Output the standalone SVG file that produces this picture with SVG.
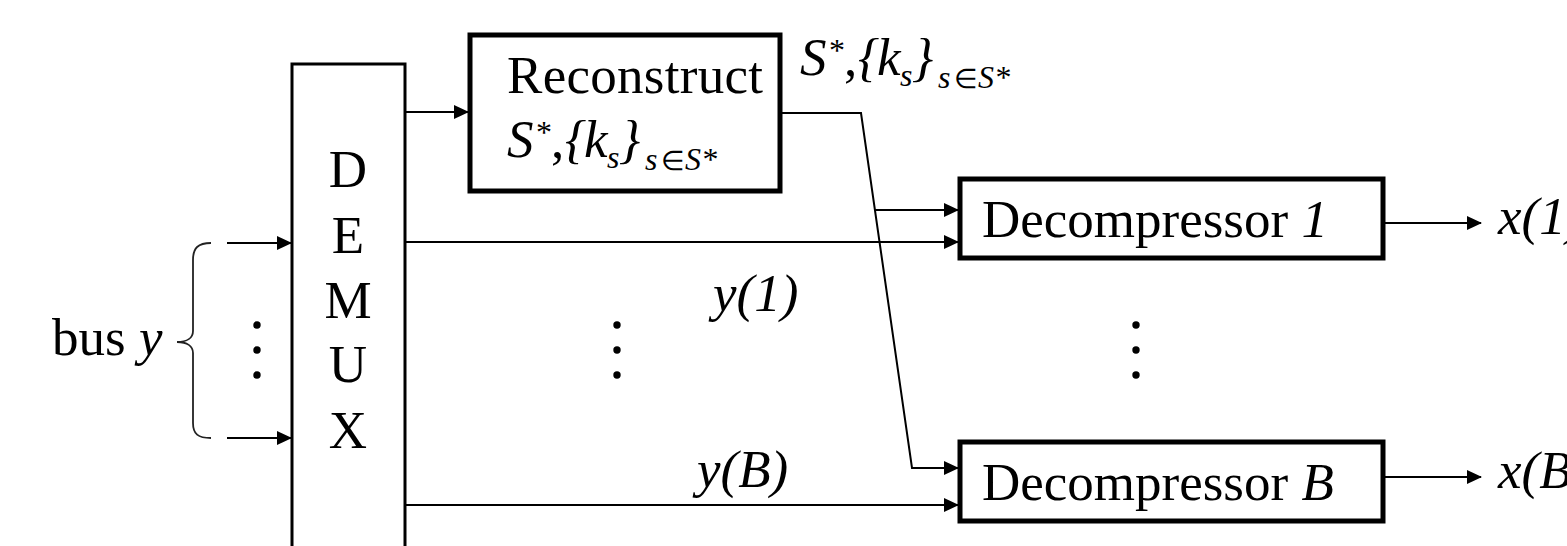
<svg xmlns="http://www.w3.org/2000/svg" width="1567" height="546" viewBox="0 0 1567 546" font-family="Liberation Serif, Times New Roman, serif">
<style>
text{fill:#000}
.t{font-size:53px}
.i{font-style:italic}
.sup{font-size:32px}
.sub{font-size:32px;font-style:italic}
.el{font-size:27px}
.box{fill:#fff;stroke:#000;stroke-width:5}
.ln{fill:none;stroke:#000;stroke-width:2}
.dot{fill:#000}
</style>
<defs>
<marker id="ah" markerWidth="15" markerHeight="14" refX="14" refY="7" orient="auto" markerUnits="userSpaceOnUse">
<path d="M0,0 L15,7 L0,14 Z" fill="#000"/>
</marker>
</defs>
<g id="demux">
<rect x="292" y="64" width="113" height="500" fill="#fff" stroke="#000" stroke-width="3"/>
<text class="t" x="348" y="187" text-anchor="middle">D</text>
<text class="t" x="348" y="253" text-anchor="middle">E</text>
<text class="t" x="348" y="318" text-anchor="middle">M</text>
<text class="t" x="348" y="382" text-anchor="middle">U</text>
<text class="t" x="348" y="448" text-anchor="middle">X</text>
</g>
<g id="bus">
<text class="t" x="52" y="355">bus <tspan class="i">y</tspan></text>
<path d="M211,243 C198,243 193,248 193,260 L193,331 C193,338 187,342 177,342 C187,342 193,346 193,353 L193,423 C193,434 198,438 211,438" fill="none" stroke="#222" stroke-width="1.8"/>
<circle class="dot" cx="257" cy="325" r="3.7"/>
<circle class="dot" cx="257" cy="350" r="3.7"/>
<circle class="dot" cx="257" cy="375" r="3.7"/>
</g>
<g id="reconstruct">
<rect class="box" x="470" y="35" width="310" height="156"/>
<text class="t" x="507" y="93" textLength="256">Reconstruct</text>
<text class="t"><tspan class="i" x="507" y="157">S</tspan><tspan class="sup" x="536" y="143">*</tspan><tspan x="551" y="157">,</tspan><tspan class="i" x="565" y="157">{</tspan><tspan class="i" x="584" y="157">k</tspan><tspan class="sub" x="607" y="168">s</tspan><tspan class="i" x="619" y="157">}</tspan><tspan class="sub" x="645" y="170">s</tspan><tspan class="el" x="661" y="170">∈</tspan><tspan class="sub" x="685" y="170">S*</tspan></text>
</g>
<g id="dec1">
<rect class="box" x="960" y="179" width="423" height="79"/>
<text class="t" x="982" y="237">Decompressor <tspan class="i">1</tspan></text>
</g>
<g id="decB">
<rect class="box" x="960" y="442" width="423" height="79"/>
<text class="t" x="982" y="500">Decompressor <tspan class="i">B</tspan></text>
</g>
<g id="labels">
<text class="t" transform="translate(293,-82)"><tspan class="i" x="507" y="157">S</tspan><tspan class="sup" x="536" y="143">*</tspan><tspan x="551" y="157">,</tspan><tspan class="i" x="565" y="157">{</tspan><tspan class="i" x="584" y="157">k</tspan><tspan class="sub" x="607" y="168">s</tspan><tspan class="i" x="619" y="157">}</tspan><tspan class="sub" x="645" y="170">s</tspan><tspan class="el" x="661" y="170">∈</tspan><tspan class="sub" x="685" y="170">S*</tspan></text>
<text class="t i" x="713" y="311">y(1)</text>
<text class="t i" x="697" y="487">y(B)</text>
<text class="t i" x="1498" y="234">x(1)</text>
<text class="t i" x="1498" y="488">x(B)</text>
<circle class="dot" cx="617" cy="325" r="3.7"/>
<circle class="dot" cx="617" cy="350" r="3.7"/>
<circle class="dot" cx="617" cy="375" r="3.7"/>
<circle class="dot" cx="1136" cy="325" r="3.7"/>
<circle class="dot" cx="1136" cy="350" r="3.7"/>
<circle class="dot" cx="1136" cy="375" r="3.7"/>
</g>
<g id="connectors">
<line class="ln" x1="227" y1="243" x2="291" y2="243" marker-end="url(#ah)"/>
<line class="ln" x1="227" y1="438" x2="291" y2="438" marker-end="url(#ah)"/>
<line class="ln" x1="405" y1="112" x2="468" y2="112" marker-end="url(#ah)"/>
<line class="ln" x1="405" y1="242" x2="958" y2="242" marker-end="url(#ah)"/>
<line class="ln" x1="405" y1="505" x2="958" y2="505" marker-end="url(#ah)"/>
<polyline class="ln" points="781,113 861,113 912,468 958,468" marker-end="url(#ah)" stroke-width="1.6"/>
<line class="ln" x1="875" y1="210" x2="958" y2="210" marker-end="url(#ah)" stroke="#444" stroke-width="2.5"/>
<line class="ln" x1="1383" y1="223" x2="1481" y2="223" marker-end="url(#ah)"/>
<line class="ln" x1="1383" y1="477" x2="1481" y2="477" marker-end="url(#ah)"/>
</g>
</svg>
